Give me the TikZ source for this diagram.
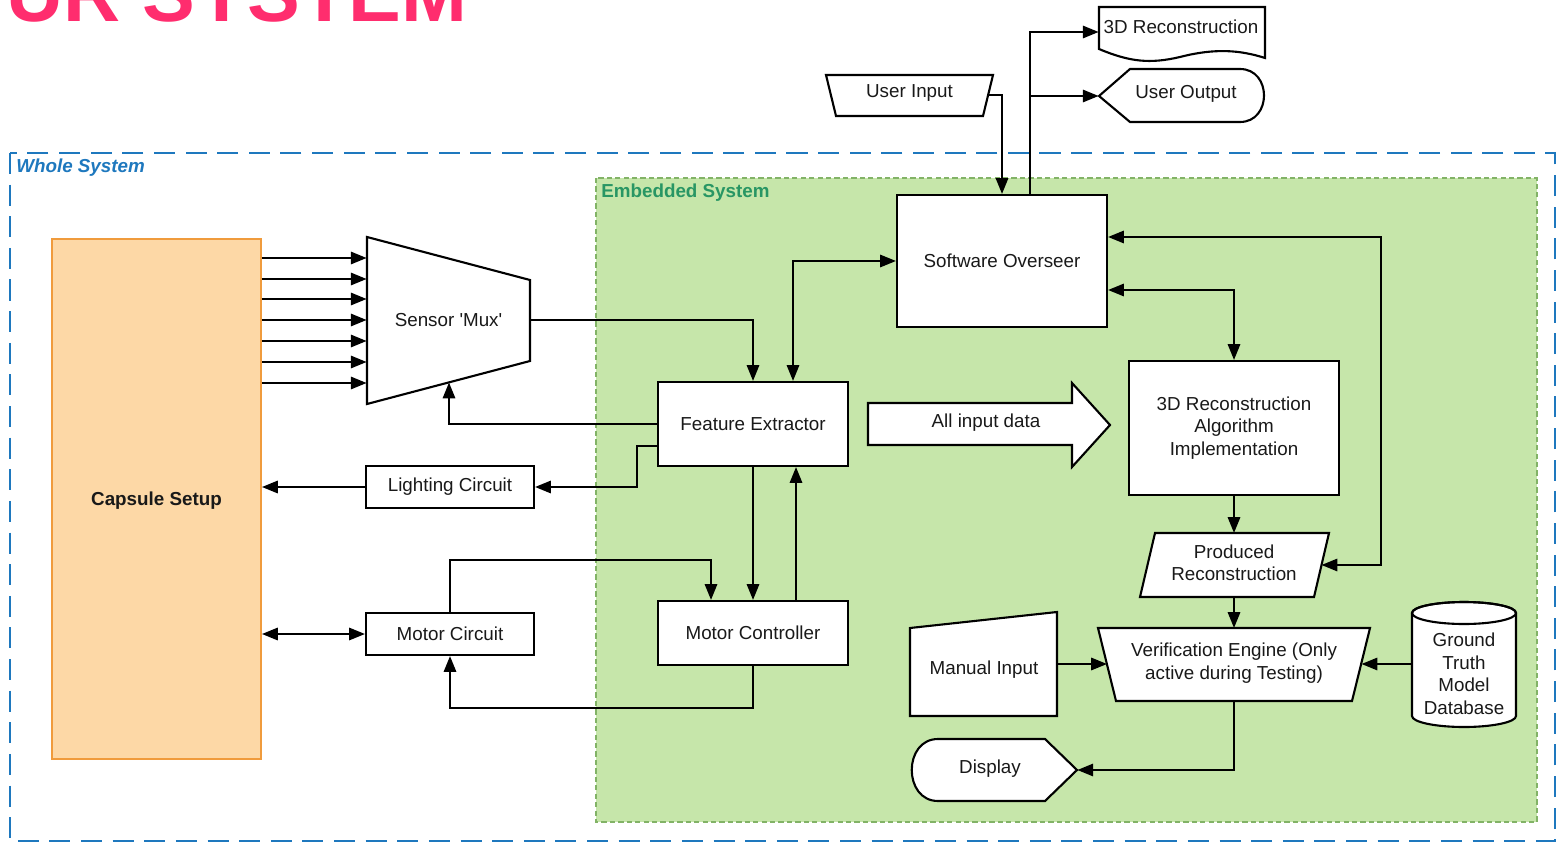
\documentclass[tikz,border=0pt]{standalone}
\usepackage{fontspec}
\setmainfont{Liberation Sans}
\usetikzlibrary{arrows.meta}
\definecolor{wsblue}{RGB}{30,120,190}
\definecolor{esgreen}{RGB}{130,179,102}
\definecolor{esfill}{RGB}{198,230,170}
\definecolor{estext}{RGB}{40,150,100}
\definecolor{capfill}{RGB}{253,216,166}
\definecolor{capdraw}{RGB}{240,155,60}
\definecolor{titlepink}{RGB}{255,45,110}
\newcommand{\fs}{\fontsize{10.7}{12.8}\selectfont}
\begin{document}
\begin{tikzpicture}[x=0.02cm,y=-0.02cm,
  every node/.style={font=\fs, inner sep=0pt, align=center, text=black!90},
  box/.style 2 args={draw, fill=white, line width=1.2pt, minimum width=#1*0.02cm, minimum height=#2*0.02cm},
  ghost/.style 2 args={minimum width=#1*0.02cm, minimum height=#2*0.02cm},
  shp/.style={draw, fill=white, line width=1.2pt, line join=miter},
  arr/.style={line width=1.2pt, -{Triangle[length=9pt,width=7pt]}},
  arrb/.style={line width=1.2pt, {Triangle[length=9pt,width=7pt]}-{Triangle[length=9pt,width=7pt]}}]
\useasboundingbox (0,0) rectangle (1557,844);
% title
\node[anchor=base east, font=\fontsize{45}{50}\selectfont\bfseries, text=titlepink] (title) at (468,22) {UR SYSTEM};
% containers
\draw[wsblue, line width=1.1pt, dash pattern=on 12pt off 6pt] (10,153) rectangle (1555,841);
\draw[esgreen, fill=esfill, line width=0.9pt, dash pattern=on 3pt off 1.8pt] (596,178) rectangle (1537,822);
\node[anchor=base west, font=\fs\bfseries\itshape, text=wsblue] (wslabel) at (16,173) {Whole System};
\node[anchor=base west, font=\fs\bfseries, text=estext] (eslabel) at (601,198) {Embedded System};
% capsule
\node[draw=capdraw, fill=capfill, line width=1.1pt, minimum width=209*0.02cm, minimum height=520*0.02cm, font=\fs\bfseries] (capsule) at (156.5,499) {};
\node[font=\fs\bfseries] (captext) at (156.5,501) {Capsule Setup};
% custom shapes
\draw[shp] (367,237) -- (530,280) -- (530,361) -- (367,404) -- cycle;
\node[ghost={163}{168}] (mux) at (448.5,320) {Sensor \textquotesingle Mux\textquotesingle};
\coordinate (muxB) at (449,382.5);
\draw[shp] (868,403) -- (1072,403) -- (1072,383) -- (1110,425) -- (1072,467) -- (1072,445) -- (868,445) -- cycle;
\node (allin) at (986,423) {All input data};
\draw[shp] (1155,533) -- (1329,533) -- (1314,597) -- (1140,597) -- cycle;
\node[ghost={190}{64}] (prod) at (1234,563) {Produced\\Reconstruction};
\coordinate (prodR) at (1321.5,565);
\draw[shp] (1098,628) -- (1370,628) -- (1352,701) -- (1116,701) -- cycle;
\node[ghost={272}{73}] (ver) at (1234,663) {Verification Engine (Only\\active during Testing)};
\coordinate (verL) at (1107,664);
\coordinate (verR) at (1361.5,664);
\draw[shp] (1412,613) -- (1412,716) arc[start angle=180,end angle=0,x radius=52,y radius=11] -- (1516,613) arc[start angle=0,end angle=-180,x radius=52,y radius=11] -- cycle;
\draw[line width=1.2pt] (1464,613) ellipse[x radius=52, y radius=11];
\node[ghost={104}{124}] (gt) at (1464,664) {};
\node (gttext) at (1464,674) {Ground\\Truth\\Model\\Database};
\draw[shp] (910,628) -- (1057,612) -- (1057,716) -- (910,716) -- cycle;
\node[ghost={147}{104}] (mi) at (983.5,664) {};
\node (mitext) at (984,670) {Manual Input};
\draw[shp] (938,739) -- (1045,739) -- (1077,770) -- (1045,801) -- (938,801) .. controls (903,801) and (903,739) .. (938,739) -- cycle;
\node[ghost={167}{62}] (disp) at (993.5,770) {};
\node (disptext) at (990,769) {Display};
\draw[shp] (826,75) -- (993,75) -- (983,116) -- (836,116) -- cycle;
\node[ghost={167}{42}] (ui) at (909.5,95) {};
\node (uitext) at (909.5,93) {User Input};
\draw[shp] (1099,7) -- (1265,7) -- (1265,58) .. controls (1240,50) and (1215,48) .. (1180,57) .. controls (1150,64) and (1130,62) .. (1099,49) -- cycle;
\node[ghost={166}{52}] (rec3d) at (1182,32) {};
\node (rec3dtext) at (1181,27) {3D Reconstruction};
\draw[shp] (1099,96) -- (1130,69) -- (1240,69) .. controls (1272,69) and (1272,122) .. (1240,122) -- (1130,122) -- cycle;
\node[ghost={166}{52}] (uo) at (1182,96) {};
\node (uotext) at (1186,94) {User Output};
% rectangles
\node[box={190}{84}] (fe) at (753,424) {Feature Extractor};
\node[box={210}{132}] (so) at (1002,261) {Software Overseer};
\node[box={210}{134}] (recon) at (1234,428) {3D Reconstruction\\Algorithm\\Implementation};
\node[box={168}{42}] (light) at (450,487) {Lighting Circuit};
\node[box={168}{42}] (motor) at (450,634) {Motor Circuit};
\node[box={190}{64}] (mc) at (753,633) {Motor Controller};
% connectors
\foreach \yy in {258,279,299,320,341,362,383}
  \draw[arr] (capsule.east |- 0,\yy) -- (mux.west |- 0,\yy);
\draw[arr] (mux.east) -| (fe.north);
\draw[arr] (fe.west) -| (muxB);
\draw[arr] (fe.west |- 0,446) -- (637,446) |- (light.east);
\draw[arr] (light.west) -- (capsule.east |- light.west);
\draw[arrb] (capsule.east |- motor.west) -- (motor.west);
\draw[arr] (motor.north) |- (711,560) -- (mc.north -| 711,0);
\draw[arr] (mc.south) |- (450,708) -- (motor.south);
\draw[arr] (fe.south) -- (mc.north);
\draw[arr] (mc.north -| 796,0) -- (fe.south -| 796,0);
\draw[arrb] (fe.north -| 793,0) |- (so.west);
\draw[arr] (ui.east) ++(-5,0) -| (so.north);
\draw[arr] (so.north -| 1030,0) |- (rec3d.west);
\draw[arr] (so.north -| 1030,0) |- (uo.west);
\draw[arrb] (so.east |- 0,290) -| (recon.north);
\draw[arrb] (so.east |- 0,237) -- (1381,237) -- (1381,565) -- (prodR);
\draw[arr] (recon.south) -- (prod.south |- 0,533);
\draw[arr] (prod.south |- 0,597) -- (ver.north |- 0,628);
\draw[arr] (mi.east) -- (verL);
\draw[arr] (gt.west) -- (verR);
\draw[arr] (ver.south |- 0,701) |- (disp.east);
\end{tikzpicture}
\end{document}
